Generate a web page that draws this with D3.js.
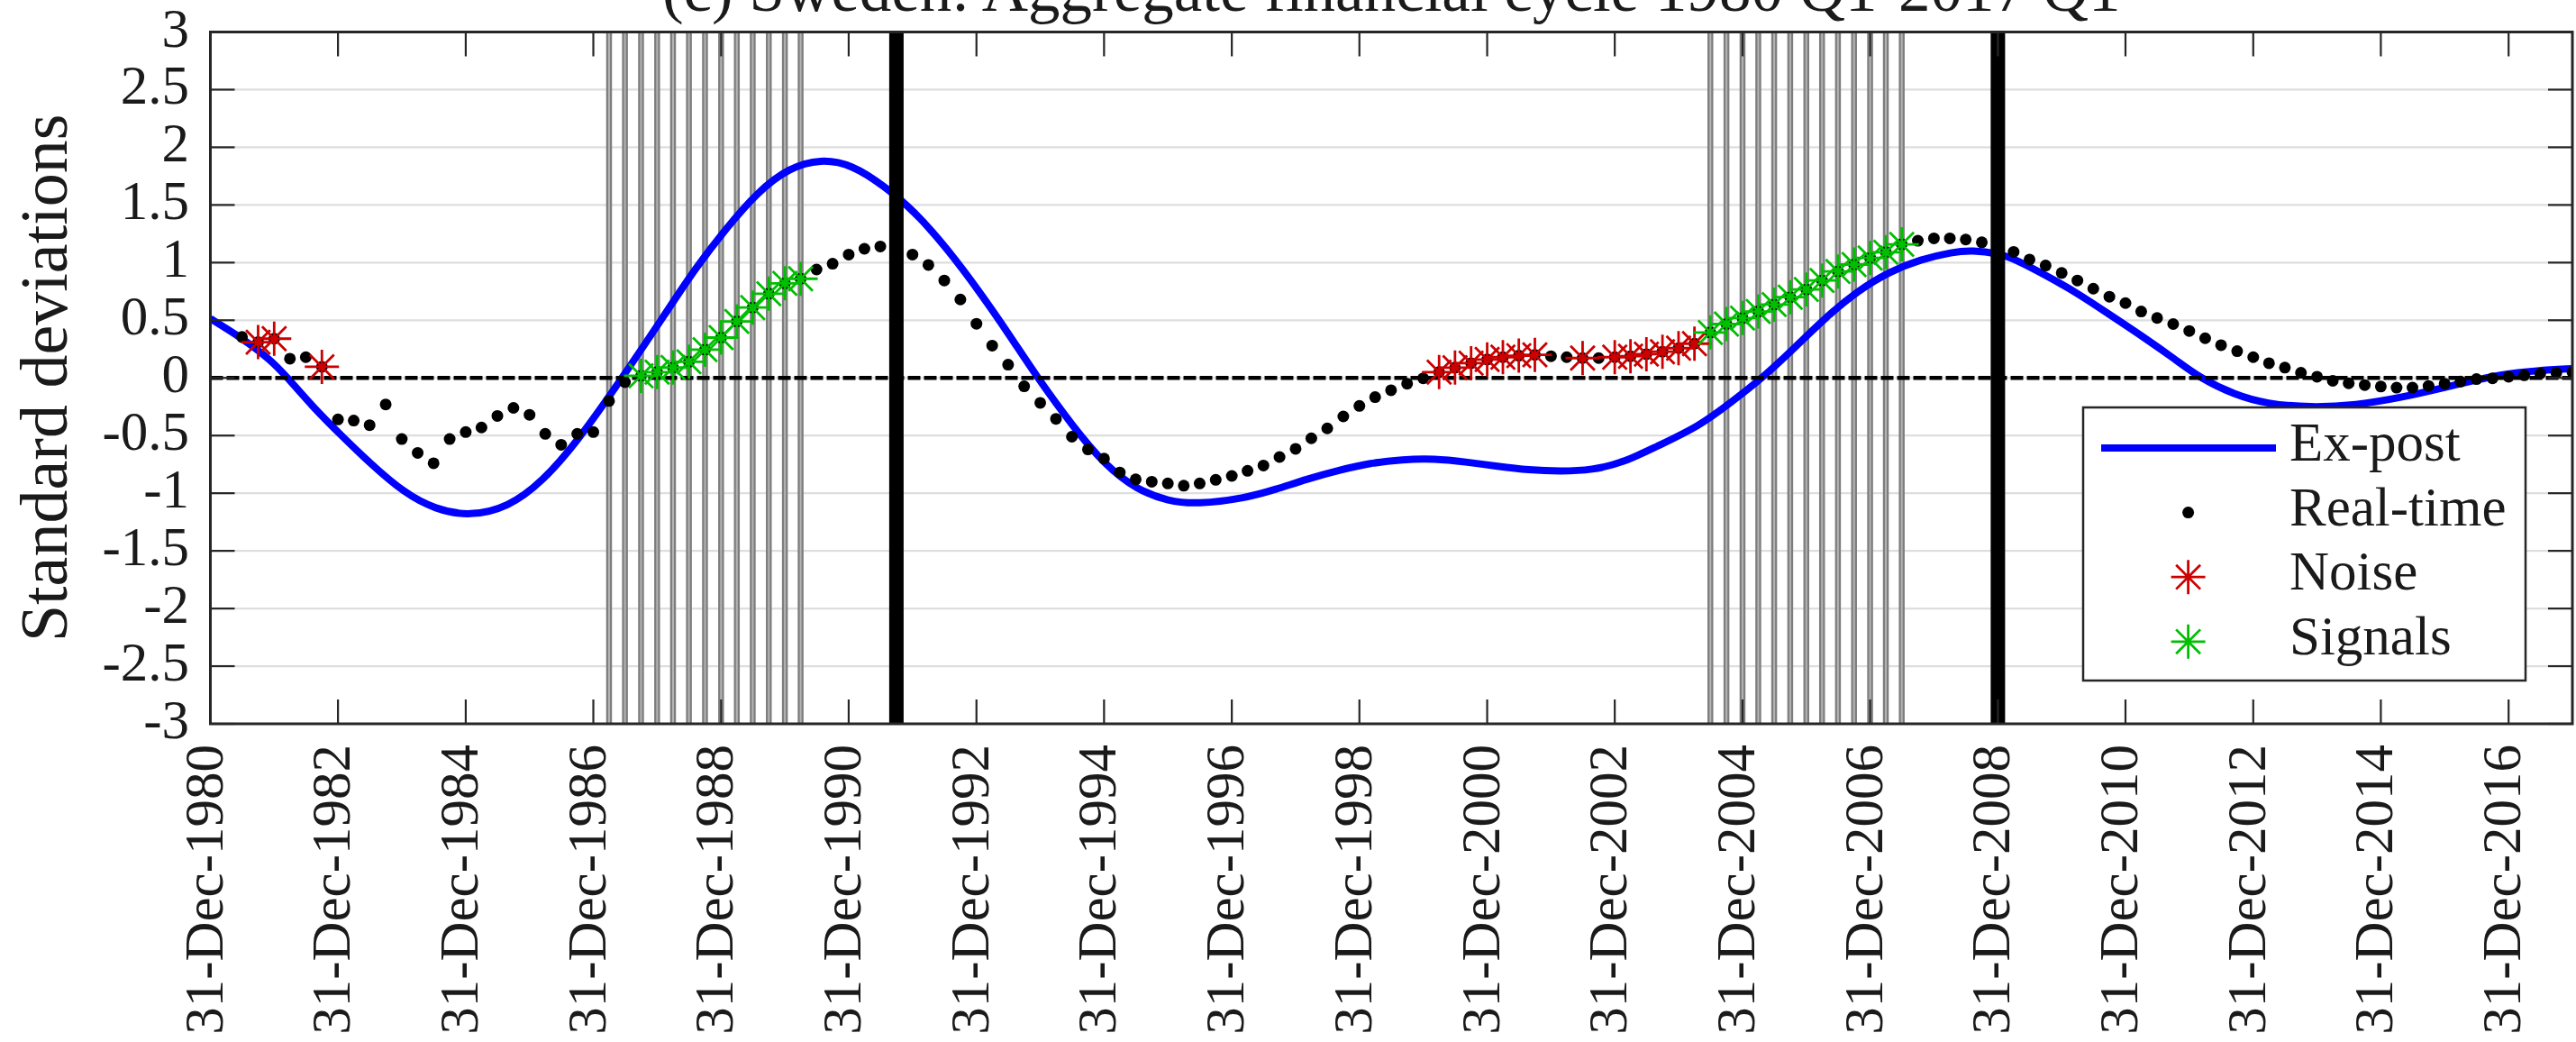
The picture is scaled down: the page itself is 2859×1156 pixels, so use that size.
<!DOCTYPE html>
<html><head><meta charset="utf-8">
<script src="https://cdn.jsdelivr.net/npm/d3@7"></script>
<style>
body{margin:0;background:#fff}
svg{display:block}
text{font-family:"Liberation Serif","Times New Roman",serif;fill:#1a1a1a}
</style>
</head><body>
<svg id="chart" width="2859" height="1156"></svg>
<script>
// ---------------- DATA ----------------
const titleText = "(c) Sweden: Aggregate financial cycle 1980 Q1-2017 Q1";
const yLabel = "Standard deviations";
const yTickValues = [3, 2.5, 2, 1.5, 1, 0.5, 0, -0.5, -1, -1.5, -2, -2.5, -3];
const xTickLabels = ["31-Dec-1980","31-Dec-1982","31-Dec-1984","31-Dec-1986","31-Dec-1988","31-Dec-1990",
  "31-Dec-1992","31-Dec-1994","31-Dec-1996","31-Dec-1998","31-Dec-2000","31-Dec-2002","31-Dec-2004",
  "31-Dec-2006","31-Dec-2008","31-Dec-2010","31-Dec-2012","31-Dec-2014","31-Dec-2016"];
const xDomain = ["31-Dec-1980", "31-Dec-2017"];

// Ex-post cycle (decimal year, value)
const expostYears = [1981.00,1981.45,1981.94,1982.21,1982.60,1983.05,1983.50,1984.04,1984.52,1985.06,1985.66,
  1986.20,1986.75,1987.44,1988.13,1988.58,1989.08,1989.57,1990.06,1990.56,1991.05,1991.55,1992.04,1992.54,
  1993.03,1993.53,1993.93,1994.52,1995.02,1995.51,1996.01,1996.45,1997.19,1997.69,1998.18,1998.68,1999.17,
  1999.67,2000.17,2000.66,2001.16,2001.65,2002.15,2002.64,2003.14,2003.63,2004.32,2004.82,2005.31,2005.81,
  2006.31,2006.80,2007.30,2007.79,2008.29,2008.60,2009.00,2009.28,2009.77,2010.27,2010.76,2011.26,2011.78,
  2012.16,2012.72,2013.20,2013.90,2014.61,2015.31,2016.02,2016.49,2016.96,2017.43,2018.00];
const expostValues = [0.514,0.36,0.16,0.0,-0.25,-0.5,-0.74,-1.0,-1.14,-1.20,-1.124,
  -0.90,-0.55,-0.008,0.56,0.94,1.30,1.614,1.823,1.90,1.85,1.666,1.44,1.12,
  0.76,0.36,0.02,-0.43,-0.76,-0.97,-1.07,-1.095,-1.046,-0.967,-0.876,-0.80,-0.738,
  -0.707,-0.70,-0.728,-0.767,-0.80,-0.81,-0.80,-0.733,-0.60,-0.42,-0.21,0.0,0.26,
  0.53,0.754,0.923,1.027,1.093,1.106,1.08,1.027,0.884,0.727,0.545,0.362,0.16,
  0.0,-0.15,-0.225,-0.258,-0.237,-0.172,-0.081,-0.016,0.036,0.063,0.081];

// Real-time cycle, quarterly from 1981 Q2 to 2017 Q4
const realTimeStart = "1981Q2";
const realTime = [0.355,0.31,0.34,0.167,0.18,0.096,-0.36,-0.37,-0.41,-0.23,
  -0.53,-0.65,-0.74,-0.53,-0.47,-0.43,-0.33,-0.26,-0.32,-0.485,
  -0.58,-0.485,-0.47,-0.20,-0.037,0.018,0.05,0.09,0.14,0.245,
  0.35,0.49,0.61,0.73,0.82,0.86,0.94,0.99,1.07,1.12,
  1.14,1.14,1.07,0.98,0.845,0.68,0.47,0.28,0.115,-0.073,
  -0.216,-0.355,-0.51,-0.62,-0.70,-0.82,-0.88,-0.90,-0.915,-0.935,
  -0.915,-0.884,-0.85,-0.806,-0.76,-0.686,-0.615,-0.524,-0.438,-0.334,
  -0.243,-0.167,-0.107,-0.05,-0.003,0.05,0.089,0.128,0.16,0.18,
  0.193,0.20,0.188,0.18,0.172,0.172,0.18,0.188,0.206,0.227,
  0.258,0.297,0.394,0.467,0.519,0.576,0.636,0.70,0.767,0.845,
  0.923,0.983,1.04,1.09,1.158,1.19,1.21,1.21,1.20,1.176,
  1.14,1.093,1.027,0.975,0.91,0.845,0.774,0.704,0.649,0.576,
  0.52,0.467,0.407,0.344,0.284,0.232,0.18,0.128,0.089,0.044,
  0.01,-0.025,-0.047,-0.062,-0.075,-0.085,-0.085,-0.07,-0.05,-0.032,
  -0.01,-0.003,0.01,0.023,0.037,0.044,0.05];

const noiseQuarters = ["1981Q3","1981Q4","1982Q3","2000Q1","2000Q2","2000Q3","2000Q4","2001Q1","2001Q2",
  "2001Q3","2002Q2","2002Q4","2003Q1","2003Q2","2003Q3","2003Q4","2004Q1"];
const signalQuarters = ["1987Q3","1987Q4","1988Q1","1988Q2","1988Q3","1988Q4","1989Q1","1989Q2","1989Q3",
  "1989Q4","1990Q1","2004Q2","2004Q3","2004Q4","2005Q1","2005Q2","2005Q3","2005Q4","2006Q1","2006Q2",
  "2006Q3","2006Q4","2007Q1","2007Q2"];
const windowQuarters = ["1987Q1","1987Q2","1987Q3","1987Q4","1988Q1","1988Q2","1988Q3","1988Q4","1989Q1",
  "1989Q2","1989Q3","1989Q4","1990Q1","2004Q2","2004Q3","2004Q4","2005Q1","2005Q2","2005Q3","2005Q4",
  "2006Q1","2006Q2","2006Q3","2006Q4","2007Q1","2007Q2"];
const crisisQuarters = ["1991Q3","2008Q4"];

const legendLabels = ["Ex-post","Real-time","Noise","Signals"];

// ---------------- HELPERS ----------------
const parseDay = d3.timeParse("%d-%b-%Y");
const qYear = s => +s.slice(0,4), qNum = s => +s.slice(5);
const quarterEnd = s => new Date(qYear(s), 3*qNum(s), 0);
const qIndex = s => (qYear(s) - qYear(realTimeStart))*4 + (qNum(s) - qNum(realTimeStart));
const rtDate = i => new Date(qYear(realTimeStart), 3*(qNum(realTimeStart)+i), 0);
const decYear = t => { const y = Math.floor(t); const a = new Date(y,0,1), b = new Date(y+1,0,1);
  return new Date(+a + (t-y)*(b-a)); };

// ---------------- LAYOUT ----------------
const L = 233.5, R = 2855, T = 35.5, B = 803;
const svg = d3.select("#chart");
const x = d3.scaleTime().domain(xDomain.map(parseDay)).range([L, R]);
const y = d3.scaleLinear().domain([-3, 3]).range([B, T]);
const axisCol = "#262626";

svg.append("defs").append("clipPath").attr("id","clip")
  .append("rect").attr("x",L).attr("y",T).attr("width",R-L).attr("height",B-T);

// grid
svg.append("g").selectAll("line").data(yTickValues.filter(v=>v!==3 && v!==-3)).join("line")
  .attr("x1",L).attr("x2",R).attr("y1",d=>y(d)).attr("y2",d=>y(d))
  .attr("stroke","#dedede").attr("stroke-width",2.2);

const plot = svg.append("g").attr("clip-path","url(#clip)");

// signal windows (grey quarter lines, double-edged look)
const wg = plot.append("g");
wg.selectAll(".wo").data(windowQuarters).join("line")
  .attr("x1",d=>x(quarterEnd(d))).attr("x2",d=>x(quarterEnd(d))).attr("y1",T).attr("y2",B)
  .attr("stroke","#7d7d7d").attr("stroke-width",6.5);
wg.selectAll(".wi").data(windowQuarters).join("line")
  .attr("x1",d=>x(quarterEnd(d))).attr("x2",d=>x(quarterEnd(d))).attr("y1",T).attr("y2",B)
  .attr("stroke","#b4b4b4").attr("stroke-width",2);

// ex-post line
const expost = expostYears.map((t,i)=>({d:decYear(t), v:expostValues[i]}));
plot.append("path").datum(expost)
  .attr("d", d3.line().x(d=>x(d.d)).y(d=>y(d.v)).curve(d3.curveBasis))
  .attr("fill","none").attr("stroke","#0000ff").attr("stroke-width",8).attr("stroke-linejoin","round");

// zero line
plot.append("line").attr("x1",L).attr("x2",R).attr("y1",y(0)).attr("y2",y(0))
  .attr("stroke","#000").attr("stroke-width",4.5).attr("stroke-dasharray","14,4");

// real-time dots
plot.append("g").selectAll("circle").data(realTime).join("circle")
  .attr("cx",(d,i)=>x(rtDate(i))).attr("cy",d=>y(d)).attr("r",6.5).attr("fill","#000");

// asterisk marker
const R0 = 19, c45 = R0*Math.SQRT1_2;
const starPath = `M0,${-R0}V${R0}M${-R0},0H${R0}M${-c45},${-c45}L${c45},${c45}M${-c45},${c45}L${c45},${-c45}`;
function stars(list, color){
  plot.append("g").selectAll("path").data(list).join("path")
    .attr("transform", d=>`translate(${x(quarterEnd(d))},${y(realTime[qIndex(d)])})`)
    .attr("d", starPath).attr("fill","none").attr("stroke",color).attr("stroke-width",2.8);
}
stars(noiseQuarters, "#cc0000");
stars(signalQuarters, "#00bf00");

// crisis lines
plot.append("g").selectAll("line").data(crisisQuarters).join("line")
  .attr("x1",d=>x(quarterEnd(d))).attr("x2",d=>x(quarterEnd(d))).attr("y1",T).attr("y2",B)
  .attr("stroke","#000").attr("stroke-width",16);

// axes box & ticks
const tickLen = 27;
const xTicks = xTickLabels.map(parseDay);
const tg = svg.append("g").attr("stroke",axisCol).attr("stroke-width",2.2);
tg.selectAll(".xb").data(xTicks).join("line").attr("x1",d=>x(d)).attr("x2",d=>x(d)).attr("y1",B).attr("y2",B-tickLen);
tg.selectAll(".xt").data(xTicks).join("line").attr("x1",d=>x(d)).attr("x2",d=>x(d)).attr("y1",T).attr("y2",T+tickLen);
tg.selectAll(".yl").data(yTickValues).join("line").attr("x1",L).attr("x2",L+tickLen).attr("y1",d=>y(d)).attr("y2",d=>y(d));
tg.selectAll(".yr").data(yTickValues).join("line").attr("x1",R).attr("x2",R-tickLen).attr("y1",d=>y(d)).attr("y2",d=>y(d));
svg.append("rect").attr("x",L).attr("y",T).attr("width",R-L).attr("height",B-T)
  .attr("fill","none").attr("stroke",axisCol).attr("stroke-width",3);

// tick labels
svg.append("g").selectAll("text").data(yTickValues).join("text")
  .attr("x",210).attr("y",d=>y(d)+16).attr("text-anchor","end")
  .attr("font-size",61).text(d=>String(d));
svg.append("g").selectAll("text").data(xTicks).join("text")
  .attr("transform",d=>`translate(${x(d)+13},826) rotate(-90)`).attr("text-anchor","end")
  .attr("font-size",61).text((d,i)=>xTickLabels[i]);

// y label
svg.append("text").attr("transform",`translate(74,${(T+B)/2}) rotate(-90)`)
  .attr("text-anchor","middle").attr("font-size",74).text(yLabel);

// title (top clipped by the page edge, as in the original figure)
svg.append("text").attr("x",(L+R)/2).attr("y",12).attr("text-anchor","middle")
  .attr("font-size",71).text(titleText);

// legend
const lg = svg.append("g");
lg.append("rect").attr("x",2312).attr("y",452).attr("width",491).attr("height",303)
  .attr("fill","#fff").attr("stroke",axisCol).attr("stroke-width",2.5);
const rowY = i => 497 + i*71.6;
lg.append("line").attr("x1",2332).attr("x2",2526).attr("y1",rowY(0)).attr("y2",rowY(0))
  .attr("stroke","#0000ff").attr("stroke-width",8);
lg.append("circle").attr("cx",2428.6).attr("cy",rowY(1)).attr("r",6.5).attr("fill","#000");
lg.append("path").attr("transform",`translate(2428.6,${rowY(2)})`).attr("d",starPath)
  .attr("fill","none").attr("stroke","#cc0000").attr("stroke-width",2.8);
lg.append("path").attr("transform",`translate(2428.6,${rowY(3)})`).attr("d",starPath)
  .attr("fill","none").attr("stroke","#00bf00").attr("stroke-width",2.8);
lg.selectAll("text").data(legendLabels).join("text")
  .attr("x",2541).attr("y",(d,i)=>rowY(i)+14).attr("font-size",61).text(d=>d);
</script>
</body></html>
